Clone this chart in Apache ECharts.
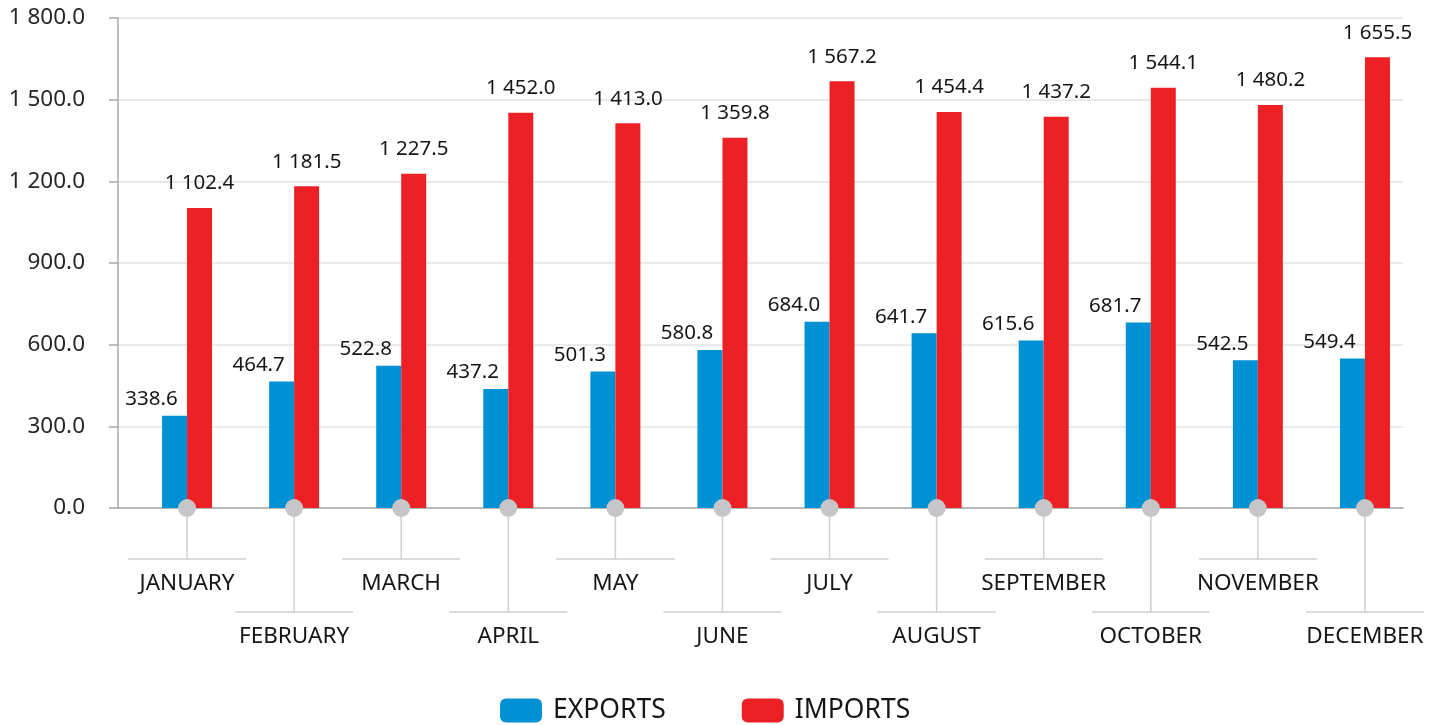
<!DOCTYPE html>
<html>
<head>
<meta charset="utf-8">
<script src="https://cdn.jsdelivr.net/npm/echarts@6/dist/echarts.min.js"></script>
<style>
html,body{margin:0;padding:0;background:#fff;}
#chart{width:1441px;height:725px;}
</style>
</head>
<body>
<div id="chart"></div>
<script>
var months = ['JANUARY','FEBRUARY','MARCH','APRIL','MAY','JUNE','JULY','AUGUST','SEPTEMBER','OCTOBER','NOVEMBER','DECEMBER'];
var exportsData = [338.6, 464.7, 522.8, 437.2, 501.3, 580.8, 684.0, 641.7, 615.6, 681.7, 542.5, 549.4];
var importsData = [1102.4, 1181.5, 1227.5, 1452.0, 1413.0, 1359.8, 1567.2, 1454.4, 1437.2, 1544.1, 1480.2, 1655.5];
var seriesNames = ['EXPORTS', 'IMPORTS'];
var yMin = 0, yMax = 1800, yStep = 300;

var FONT = '"Noto Sans", "Open Sans", sans-serif';
var TXT = '#161616';
var BLUE = '#0091d4';
var RED = '#ed2026';

function fmt(v) {
  var parts = Number(v).toFixed(1).split('.');
  parts[0] = parts[0].replace(/\B(?=(\d{3})+(?!\d))/g, ' ');
  return parts.join('.');
}

var chart = echarts.init(document.getElementById('chart'), null, {renderer: 'canvas'});

var option = {
  backgroundColor: '#fff',
  animation: false,
  textStyle: {fontFamily: FONT},
  legend: {
    data: seriesNames,
    left: 500,
    top: 697,
    padding: 0,
    itemWidth: 42,
    itemHeight: 24,
    itemGap: 76,
    icon: 'roundRect',
    textStyle: {fontSize: 26.5, color: TXT, fontFamily: FONT, padding: [0, 0, 0, 6]},
    selectedMode: false
  },
  grid: [
    {left: 118, right: 38, top: 18, bottom: 217, containLabel: false},
    {left: 133.5, right: 22.5, top: 18, bottom: 217, containLabel: false}
  ],
  xAxis: [
    {
      gridIndex: 0, type: 'value', min: 0, max: 1,
      axisLine: {show: true, lineStyle: {color: '#a8a8a8', width: 1.5}},
      axisTick: {show: false}, axisLabel: {show: false}, splitLine: {show: false}
    },
    {
      gridIndex: 1, type: 'category', data: months,
      axisLine: {show: false}, axisTick: {show: false}, axisLabel: {show: false}, splitLine: {show: false}
    }
  ],
  yAxis: [
    {
      gridIndex: 0, type: 'value', min: yMin, max: yMax, interval: yStep,
      axisLine: {show: true, lineStyle: {color: '#a8a8a8', width: 1.5}},
      axisTick: {show: true, length: 9, lineStyle: {color: '#a8a8a8', width: 1.5}},
      axisLabel: {margin: 33, fontSize: 22.5, color: '#262626', fontFamily: FONT, formatter: fmt},
      splitLine: {show: true, lineStyle: {color: '#e3e3e3', width: 1.5}}
    },
    {
      gridIndex: 1, type: 'value', min: yMin, max: yMax, interval: yStep, show: false
    }
  ],
  series: [
    {
      name: seriesNames[0], type: 'bar', xAxisIndex: 1, yAxisIndex: 1,
      data: exportsData, barWidth: 25, barGap: '0%',
      itemStyle: {color: BLUE},
      label: {show: true, position: 'top', distance: 6, offset: [-23, 0], fontSize: 20.5, color: TXT, fontFamily: FONT,
        formatter: function (p) { return fmt(p.value); }}
    },
    {
      name: seriesNames[1], type: 'bar', xAxisIndex: 1, yAxisIndex: 1,
      data: importsData, barWidth: 25, barGap: '0%',
      itemStyle: {color: RED},
      label: {show: true, position: 'top', distance: 14, fontSize: 20.5, color: TXT, fontFamily: FONT,
        formatter: function (p) { return fmt(p.value); }}
    },
    {
      type: 'custom', xAxisIndex: 1, yAxisIndex: 1, z: 10, clip: false, silent: true,
      data: months.map(function (m, i) { return [i, 0]; }),
      renderItem: function (params, api) {
        var idx = api.value(0);
        var p = api.coord([idx, 0]);
        var low = idx % 2 === 1;
        var lineY = p[1] + (low ? 104 : 51);
        var textY = lineY + 25;
        var c = '#cfcfcf';
        return {
          type: 'group',
          children: [
            {type: 'line', shape: {x1: p[0], y1: p[1], x2: p[0], y2: lineY}, style: {stroke: c, lineWidth: 1.5}},
            {type: 'line', shape: {x1: p[0] - 59, y1: lineY, x2: p[0] + 59, y2: lineY}, style: {stroke: c, lineWidth: 1.5}},
            {type: 'circle', shape: {cx: p[0], cy: p[1], r: 9}, style: {fill: '#c6c6c8'}},
            {type: 'text', x: p[0], y: textY, style: {text: months[idx], fontSize: 22.5, fontFamily: FONT, fill: TXT, align: 'center', verticalAlign: 'middle'}}
          ]
        };
      }
    }
  ]
};
chart.setOption(option);
</script>
</body>
</html>
